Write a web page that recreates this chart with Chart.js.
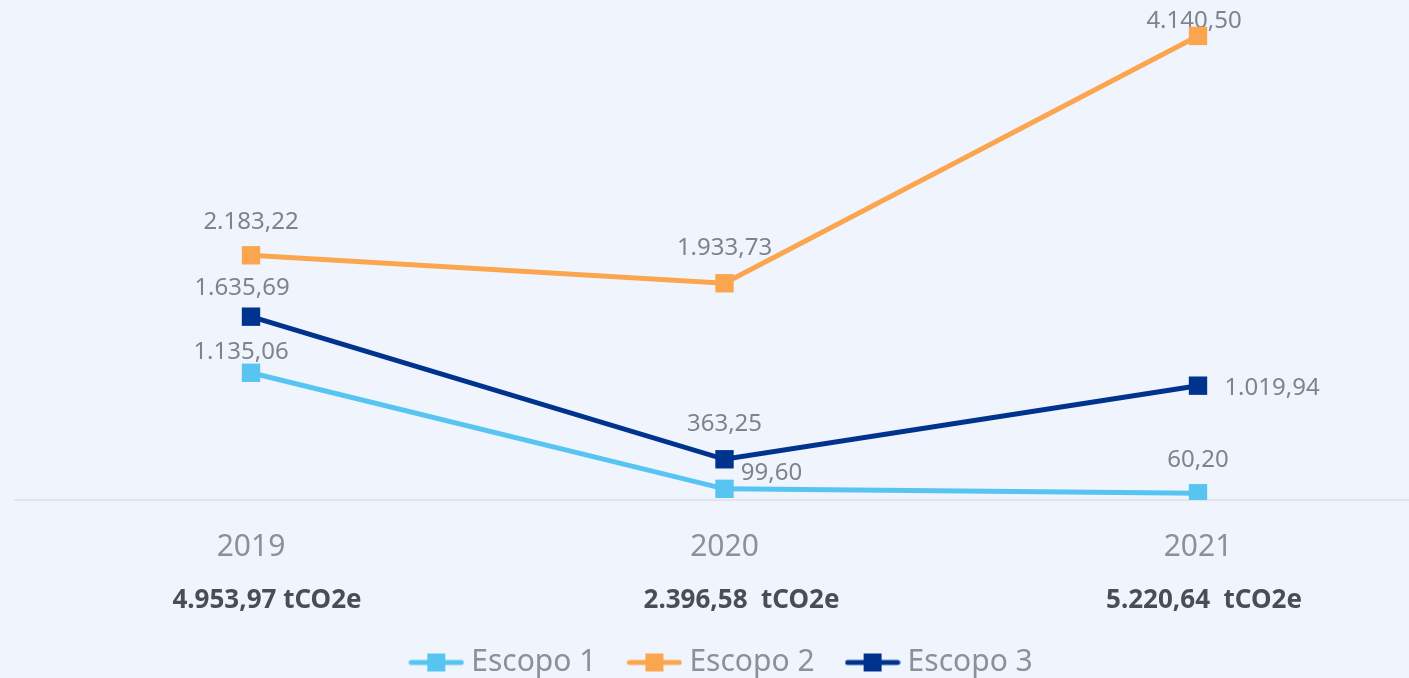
<!DOCTYPE html>
<html lang="pt-BR">
<head>
<meta charset="utf-8">
<title>Emissões por escopo</title>
<script src="https://cdn.jsdelivr.net/npm/chart.js@4/dist/chart.umd.min.js"></script>
<style>
  html, body { margin: 0; padding: 0; background: #F0F5FD; }
  #wrap { width: 1409px; height: 678px; position: relative; }
</style>
</head>
<body>
<div id="wrap"><canvas id="emissoesChart"></canvas></div>
<script>
// Data
const years = ['2019', '2020', '2021'];
const escopo1 = [1135.06, 99.60, 60.20];
const escopo2 = [2183.22, 1933.73, 4140.50];
const escopo3 = [1635.69, 363.25, 1019.94];
const totals = ['4.953,97 tCO2e', '2.396,58  tCO2e', '5.220,64  tCO2e'];

// label placement relative to each point (dx, dy to text baseline)
const labelOffsets = {
  0: [[-10, -14], [47, -9], [0, -26]],
  1: [[0, -26], [0, -28], [-4, -8]],
  2: [[-9, -22], [0, -28], [74, 9]]
};
const totalsDx = [16, 17, 6];

const FONT = '"Noto Sans", "Open Sans", sans-serif';
const colors = ['#57C4F2', '#FBA64F', '#00338E'];

// pt-BR number format: 1.234,56
function fmt(v) {
  const parts = v.toFixed(2).split('.');
  parts[0] = parts[0].replace(/\B(?=(\d{3})+(?!\d))/g, '.');
  return parts.join(',');
}

// legend icon: line with a square in the middle
function legendIcon(color) {
  const c = document.createElement('canvas');
  c.width = 56;
  c.height = 20;
  const g = c.getContext('2d');
  g.strokeStyle = color;
  g.lineWidth = 5;
  g.lineCap = 'round';
  g.beginPath();
  g.moveTo(3, 10);
  g.lineTo(53, 10);
  g.stroke();
  g.fillStyle = color;
  g.fillRect(19, 1, 18, 18);
  return c;
}

const baselinePlugin = {
  id: 'baseline',
  beforeDatasetsDraw(chart) {
    const ctx = chart.ctx;
    const y = chart.scales.y.getPixelForValue(0);
    ctx.save();
    ctx.strokeStyle = '#E1E4EA';
    ctx.lineWidth = 2;
    ctx.beginPath();
    ctx.moveTo(14, y);
    ctx.lineTo(chart.width, y);
    ctx.stroke();
    ctx.restore();
  }
};

const valueLabelsPlugin = {
  id: 'valueLabels',
  beforeDatasetsDraw(chart) {
    const ctx = chart.ctx;
    ctx.save();
    ctx.font = '24px ' + FONT;
    ctx.fillStyle = '#7E848C';
    ctx.textAlign = 'center';
    ctx.textBaseline = 'alphabetic';
    chart.data.datasets.forEach((ds, di) => {
      const meta = chart.getDatasetMeta(di);
      meta.data.forEach((pt, i) => {
        const off = labelOffsets[di][i];
        ctx.fillText(fmt(ds.data[i]), pt.x + off[0], pt.y + off[1]);
      });
    });
    ctx.restore();
  }
};

const totalsPlugin = {
  id: 'totals',
  afterDraw(chart) {
    const ctx = chart.ctx;
    const xs = chart.scales.x;
    ctx.save();
    ctx.font = 'bold 26px ' + FONT;
    ctx.fillStyle = '#4A4E54';
    ctx.textAlign = 'center';
    ctx.textBaseline = 'middle';
    totals.forEach((t, i) => {
      ctx.fillText(t, xs.getPixelForValue(i) + totalsDx[i], 601);
    });
    ctx.restore();
  }
};

function makeDataset(label, data, color) {
  return {
    label,
    data,
    borderColor: color,
    backgroundColor: color,
    borderWidth: 5,
    pointStyle: 'rect',
    pointRadius: 13,
    pointHoverRadius: 13,
    pointBorderWidth: 0,
    pointBackgroundColor: color,
    tension: 0
  };
}

const ctx = document.getElementById('emissoesChart').getContext('2d');
const chart = new Chart(ctx, {
  type: 'line',
  data: {
    labels: years,
    datasets: [
      makeDataset('Escopo 1', escopo1, colors[0]),
      makeDataset('Escopo 2', escopo2, colors[1]),
      makeDataset('Escopo 3', escopo3, colors[2])
    ]
  },
  options: {
    responsive: true,
    maintainAspectRatio: false,
    animation: false,
    layout: { padding: { left: 251, right: 211, top: 8, bottom: 0 } },
    plugins: {
      tooltip: { enabled: false },
      legend: {
        position: 'bottom',
        maxHeight: 68.5,
        labels: {
          usePointStyle: true,
          pointStyleWidth: 40,
          padding: 38,
          color: '#8B9199',
          font: { family: FONT, size: 30 },
          generateLabels(chart) {
            return chart.data.datasets.map((ds, i) => ({
              text: ds.label,
              fillStyle: ds.borderColor,
              strokeStyle: ds.borderColor,
              lineWidth: 0,
              pointStyle: legendIcon(ds.borderColor),
              hidden: !chart.isDatasetVisible(i),
              datasetIndex: i,
              fontColor: '#8B9199'
            }));
          }
        }
      }
    },
    scales: {
      x: {
        offset: false,
        grid: { display: false, drawTicks: false },
        border: { display: false },
        ticks: {
          color: '#8B9199',
          font: { family: FONT, size: 30 },
          padding: 29,
          maxRotation: 0
        },
        afterFit(scale) { scale.height = 109.5; }
      },
      y: {
        display: false,
        min: 0,
        max: 4345
      }
    }
  },
  plugins: [baselinePlugin, valueLabelsPlugin, totalsPlugin]
});
</script>
</body>
</html>
